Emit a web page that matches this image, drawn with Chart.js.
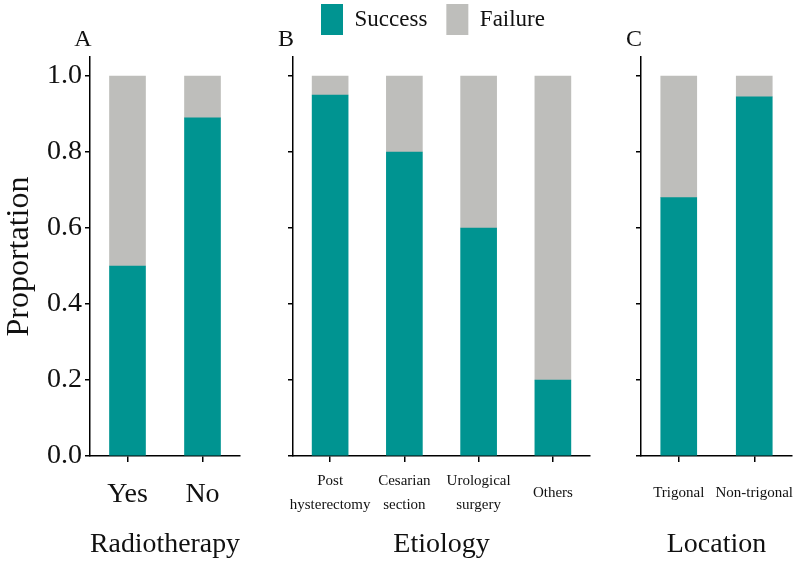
<!DOCTYPE html>
<html>
<head>
<meta charset="utf-8">
<script src="https://cdn.jsdelivr.net/npm/chart.js@4.4.1/dist/chart.umd.min.js"></script>
<style>
  html, body { margin: 0; padding: 0; background: #fff; }
  #wrap { position: relative; width: 796px; height: 564px; overflow: hidden; }
  canvas { position: absolute; }
  #panelA { left: 0; top: 0; }
  #panelB { left: 240px; top: -15px; }
  #panelC { left: 600px; top: 0; }
</style>
</head>
<body>
<div id="wrap">
  <canvas id="panelA" width="250" height="564"></canvas>
  <canvas id="panelB" width="360" height="579"></canvas>
  <canvas id="panelC" width="196" height="564"></canvas>
</div>
<script>
var radioLabels = ["Yes", "No"];
var radioSuccess = [0.50, 0.89];
var radioFailure = [0.50, 0.11];

var etioLabels = [["Post", "hysterectomy"], ["Cesarian", "section"], ["Urological", "surgery"], "Others"];
var etioSuccess = [0.95, 0.80, 0.60, 0.20];
var etioFailure = [0.05, 0.20, 0.40, 0.80];

var locLabels = ["Trigonal", "Non-trigonal"];
var locSuccess = [0.68, 0.945];
var locFailure = [0.32, 0.055];

var teal = "rgb(0, 148, 145)";
var grey = "rgb(190, 190, 187)";
var serif = "'Liberation Serif', 'Times New Roman', serif";
var ink = "#111";

Chart.defaults.font.family = serif;
Chart.defaults.color = ink;

function datasets(success, failure) {
    return [
        { label: "Success", data: success, backgroundColor: teal, borderWidth: 0, barThickness: 36 },
        { label: "Failure", data: failure, backgroundColor: grey, borderWidth: 0, barThickness: 36 }
    ];
}

// panel letter (A, B, C) just left of the top of the y axis
var panelLetter = {
    id: "panelLetter",
    afterDraw: function (chart, args, opts) {
        var ctx = chart.ctx;
        ctx.save();
        ctx.font = "24px " + serif;
        ctx.fillStyle = ink;
        ctx.textAlign = "center";
        ctx.textBaseline = "middle";
        ctx.fillText(opts.text, chart.chartArea.left - 7, chart.chartArea.top - 17);
        ctx.restore();
    }
};

function options(cfg) {
    return {
        responsive: false,
        animation: false,
        layout: { padding: cfg.padding },
        scales: {
            x: {
                stacked: true,
                afterFit: function (s) {
                    s.height = 108;
                    // keep long end labels from squeezing the plot
                    s.paddingLeft = 0;
                    s.paddingRight = 0;
                },
                grid: { offset: false, drawOnChartArea: false, drawTicks: true, tickLength: 6, color: "#000", lineWidth: 1.5 },
                border: { display: true, color: "#000", width: 1.5 },
                ticks: { font: cfg.tickFont, padding: cfg.tickPad, maxRotation: 0, autoSkip: false, crossAlign: cfg.crossAlign, color: ink },
                title: { display: true, text: cfg.xTitle, font: { size: 28 }, padding: { top: 0, bottom: 3 }, color: ink }
            },
            y: {
                stacked: true,
                min: 0,
                max: 1.05,
                afterFit: function (s) { s.width = cfg.yWidth; },
                grid: { drawOnChartArea: false, drawTicks: true, tickLength: 5, color: "#000", lineWidth: 1.5 },
                border: { display: true, color: "#000", width: 1.5 },
                ticks: {
                    stepSize: 0.2,
                    includeBounds: false,
                    display: cfg.yLabels,
                    padding: 3,
                    font: { size: 28 },
                    color: ink,
                    callback: function (v) { return v.toFixed(1); }
                },
                title: { display: cfg.yLabels, text: "Proportation", font: { size: 32 }, padding: 0, color: ink }
            }
        },
        plugins: {
            legend: cfg.legend || { display: false },
            title: cfg.title || { display: false },
            tooltip: { enabled: false },
            panelLetter: { text: cfg.letter }
        }
    };
}

new Chart("panelA", {
    type: "bar",
    data: { labels: radioLabels, datasets: datasets(radioSuccess, radioFailure) },
    options: options({
        padding: { top: 57, right: 10, bottom: 0, left: 0 },
        yWidth: 90, yLabels: true, letter: "A", xTitle: "Radiotherapy",
        tickFont: { size: 28 }, tickPad: 16, crossAlign: "near"
    }),
    plugins: [panelLetter]
});

new Chart("panelB", {
    type: "bar",
    data: { labels: etioLabels, datasets: datasets(etioSuccess, etioFailure) },
    options: options({
        padding: { top: 0, right: 10, bottom: 0, left: 36 },
        yWidth: 17, yLabels: false, letter: "B", xTitle: "Etiology",
        tickFont: { size: 15, lineHeight: 1.6 }, tickPad: 19, crossAlign: "center",
        legend: {
            display: true,
            position: "top",
            labels: { boxWidth: 22, boxHeight: 31, padding: 19, font: { size: 23 }, color: ink }
        },
        // empty spacer between the legend and the plot
        title: { display: true, text: "", weight: 100, padding: 0, font: { size: 12, lineHeight: 1 } }
    }),
    plugins: [panelLetter]
});

new Chart("panelC", {
    type: "bar",
    data: { labels: locLabels, datasets: datasets(locSuccess, locFailure) },
    options: options({
        padding: { top: 57, right: 4, bottom: 0, left: 0 },
        yWidth: 41, yLabels: false, letter: "C", xTitle: "Location",
        tickFont: { size: 15, lineHeight: 1.6 }, tickPad: 19, crossAlign: "near"
    }),
    plugins: [panelLetter]
});
</script>
</body>
</html>
